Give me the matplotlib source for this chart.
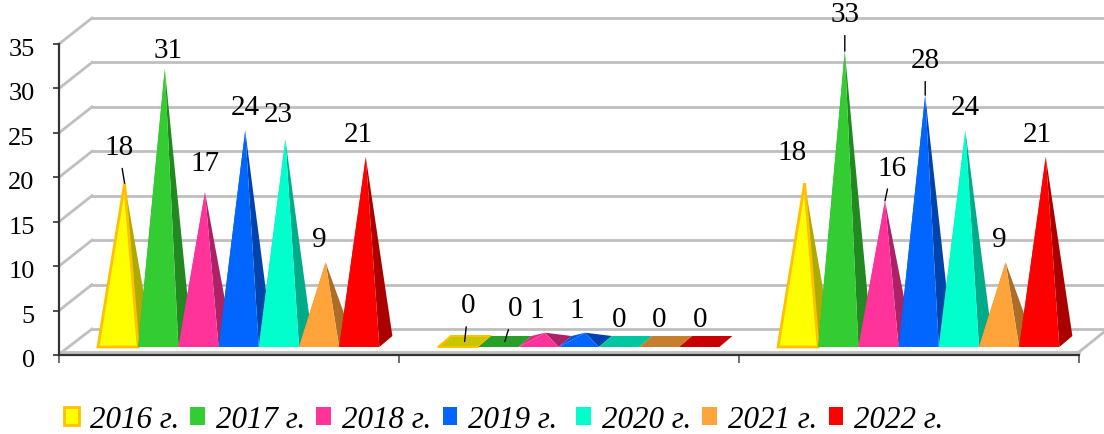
import matplotlib
matplotlib.use("Agg")
import matplotlib.pyplot as plt
from matplotlib.colors import to_rgb
from matplotlib.patches import Patch, Polygon
from matplotlib.transforms import ScaledTranslation

plt.rcParams['font.family'] = ['Liberation Serif', 'DejaVu Sans']

years = ['2016 г.', '2017 г.', '2018 г.', '2019 г. ', '2020 г.', '2021 г.', '2022 г.']
colors = ['#ffff00', '#33cc33', '#ff3399', '#0066ff', '#00ffcc', '#ffa33a', '#ff0000']
group_1 = [18, 31, 17, 24, 23, 9, 21]
group_2 = [0, 0, 1, 1, 0, 0, 0]
group_3 = [18, 33, 16, 28, 24, 9, 21]
groups = [group_1, group_2, group_3]

# label offsets from the pyramid tip, in pixels (x right, y up)
label_shift = [
    [(-6, 36), (3, 19), (0, 29), (0, 23), (-7, 25), (-6, 23), (-7, 23)],
    [(4, 36), (10, 33), (-8, 23), (-8, 23), (-6, 22), (-6, 22), (-6, 22)],
    [(-13, 31), (0, 37), (7, 33), (0, 35), (0, 23), (-6, 23), (-8, 23)],
]
# which labels have a small leader line
leaders = [(0, 0), (1, 0), (1, 1), (2, 1), (2, 2), (2, 3)]

W, H = 1104, 435
fig = plt.figure(figsize=(W / 100, H / 100), dpi=100)
ax = fig.add_axes([59 / W, (H - 356) / H, 1020 / W, 311 / H])
ax.set_xlim(0, 3)
ax.set_ylim(0, 35)

# pixels to data units
sx = 3 / 1020
sy = 35 / 311

# side wall and back wall lines
grid_c = '#bfbfbf'
for v in range(0, 40, 5):
    lift = 3 if v == 0 else 0
    ax.plot([0 + (3 if v == 0 else 0) * sx, 33 * sx], [v + lift * sy, v + 26 * sy],
            color=grid_c, lw=2, clip_on=False, zorder=1)
    ax.plot([33 * sx, 3 + 40 * sx], [v + 26 * sy, v + 26 * sy],
            color=grid_c, lw=2, clip_on=False, zorder=1)
ax.plot([0, 3], [3 * sy, 3 * sy], color=grid_c, lw=2, clip_on=False, zorder=1)
ax.plot([3, 3 + 25 * sx], [3 * sy, 23 * sy], color=grid_c, lw=2, clip_on=False, zorder=1)


def shade(c, f):
    return tuple(x * f for x in to_rgb(c))


# pyramids
bar_w = 40.2 * sx
base_y = 8 * sy
depth_x = 13 * sx
depth_y = 11 * sy
# pyramids sit further back than the axis, so they scale a little smaller
depth_scale = 0.99
for g, vals in enumerate(groups):
    for j, v in enumerate(vals):
        left = g + 0.5 - 3.5 * bar_w + 9.7 * sx + j * bar_w
        right = left + bar_w
        tip_x = (left + right) / 2 + depth_x / 2
        tip_y = base_y + v * depth_scale + depth_y / 2
        c = colors[j]
        edge = '#ffc000' if j == 0 else 'none'
        z = 3 + j
        if v == 0:
            ax.add_patch(Polygon([(left, base_y), (right, base_y),
                                  (right + depth_x, base_y + depth_y),
                                  (left + depth_x, base_y + depth_y)],
                                 fc=shade(c, 0.78), ec=edge, lw=1.5, zorder=z, clip_on=False))
        else:
            ax.add_patch(Polygon([(left, base_y), (tip_x, tip_y), (left + depth_x, base_y + depth_y)],
                                 fc=shade(c, 0.85), ec='none', zorder=z))
            ax.add_patch(Polygon([(right, base_y), (right + depth_x, base_y + depth_y), (tip_x, tip_y)],
                                 fc=shade(c, 0.67), ec='none', zorder=z))
            ax.add_patch(Polygon([(left, base_y), (right, base_y), (tip_x, tip_y)],
                                 fc=c, ec=edge, lw=2, zorder=z))
        dx, dy = label_shift[g][j]
        props = None
        if (g, j) in leaders:
            props = dict(arrowstyle='-', color='black', lw=1, shrinkA=4, shrinkB=0)
        ax.annotate(str(v), xy=(tip_x, tip_y), xytext=(dx * 0.72, dy * 0.72),
                    textcoords='offset points', ha='center', va='center', fontsize=21,
                    arrowprops=props, zorder=20, annotation_clip=False)

# axes
for s in ['top', 'right']:
    ax.spines[s].set_visible(False)
for s in ['left', 'bottom']:
    ax.spines[s].set_color('#333333')
    ax.spines[s].set_linewidth(1.6)
ax.patch.set_alpha(0)
ax.set_xticks([0, 1, 2, 3])
ax.set_xticklabels([])
ax.set_yticks(range(0, 40, 5))
ax.tick_params(axis='y', labelsize=19, length=4.5, width=1.2, color='#333333', pad=13)
ax.tick_params(axis='x', length=6, width=1.2, color='#555555')
for lab in ax.get_yticklabels():
    lab.set_transform(lab.get_transform() + ScaledTranslation(0, -2.5 / 100, fig.dpi_scale_trans))

handles = [Patch(fc=c, ec='#ffc000' if i == 0 else 'none', lw=2 if i == 0 else 0)
           for i, c in enumerate(colors)]
fig.legend(handles, years, ncol=7, loc='lower left', bbox_to_anchor=(58 / W, -6 / H),
           frameon=False, prop={'family': 'Liberation Serif', 'style': 'italic', 'size': 22.3},
           handlelength=0.48, handleheight=0.5, handletextpad=0.35, columnspacing=0.36,
           borderpad=0.2, borderaxespad=0)

fig.savefig('out.png', dpi=100, facecolor='white')
